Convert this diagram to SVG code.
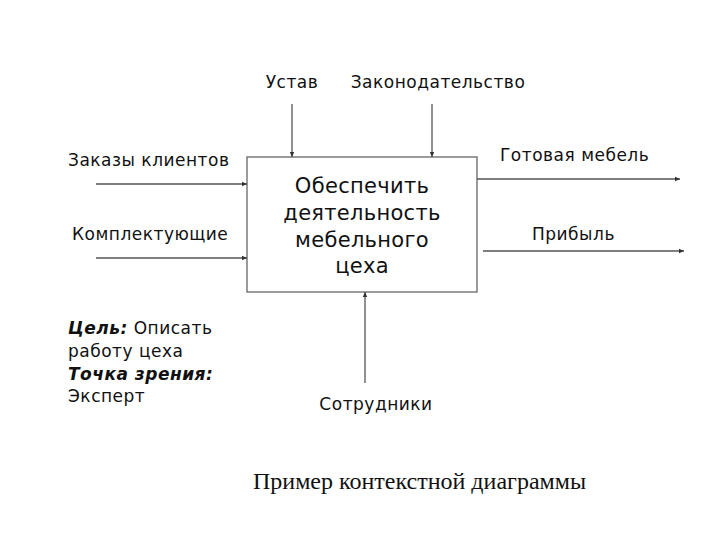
<svg xmlns="http://www.w3.org/2000/svg" width="720" height="540" viewBox="0 0 720 540">
<style>
.l{font-family:"DejaVu Sans","Noto Sans",sans-serif;font-size:17px;letter-spacing:0.5px;fill:#111}
.b{font-family:"DejaVu Sans","Noto Sans",sans-serif;font-size:21px;letter-spacing:0.3px;fill:#111;text-anchor:middle}
.c{stroke:#555;stroke-width:1.3;fill:none;marker-end:url(#a)}
.cap{font-family:"Liberation Serif","Times New Roman",serif;font-size:24px;fill:#111}
</style>
<defs>
<marker id="a" markerWidth="6" markerHeight="6" refX="5" refY="3" orient="auto" markerUnits="userSpaceOnUse">
<path d="M0,0.8 L5,3 L0,5.2 Z" fill="#333"/>
</marker>
</defs>
<rect width="720" height="540" fill="#fff"/>
<g id="box">
<rect x="247" y="157" width="230" height="135" fill="#fff" stroke="#666" stroke-width="1.3"/>
<text class="b" x="362" y="193">Обеспечить</text>
<text class="b" x="362" y="220">деятельность</text>
<text class="b" x="362" y="247">мебельного</text>
<text class="b" x="362" y="273">цеха</text>
</g>
<g id="connectors">
<line class="c" x1="292" y1="104" x2="292" y2="157"/>
<line class="c" x1="432" y1="104" x2="432" y2="157"/>
<line class="c" x1="96" y1="184" x2="247" y2="184"/>
<line class="c" x1="96" y1="258" x2="247" y2="258"/>
<line class="c" x1="477" y1="179" x2="680" y2="179"/>
<line class="c" x1="483" y1="251" x2="684" y2="251"/>
<line class="c" x1="365" y1="383" x2="365" y2="292"/>
</g>
<g id="labels">
<text class="l" x="292" y="88" text-anchor="middle">Устав</text>
<text class="l" x="438" y="88" text-anchor="middle">Законодательство</text>
<text class="l" x="68" y="166">Заказы клиентов</text>
<text class="l" x="72" y="240">Комплектующие</text>
<text class="l" x="500" y="161">Готовая мебель</text>
<text class="l" x="532" y="240">Прибыль</text>
<text class="l" x="376" y="410" text-anchor="middle">Сотрудники</text>
</g>
<g id="note">
<text class="l" x="68" y="334"><tspan font-weight="bold" font-style="italic">Цель:</tspan> Описать</text>
<text class="l" x="68" y="357">работу цеха</text>
<text class="l" x="68" y="380" font-weight="bold" font-style="italic">Точка зрения:</text>
<text class="l" x="68" y="402">Эксперт</text>
</g>
<text class="cap" x="253" y="489">Пример контекстной диаграммы</text>
</svg>
